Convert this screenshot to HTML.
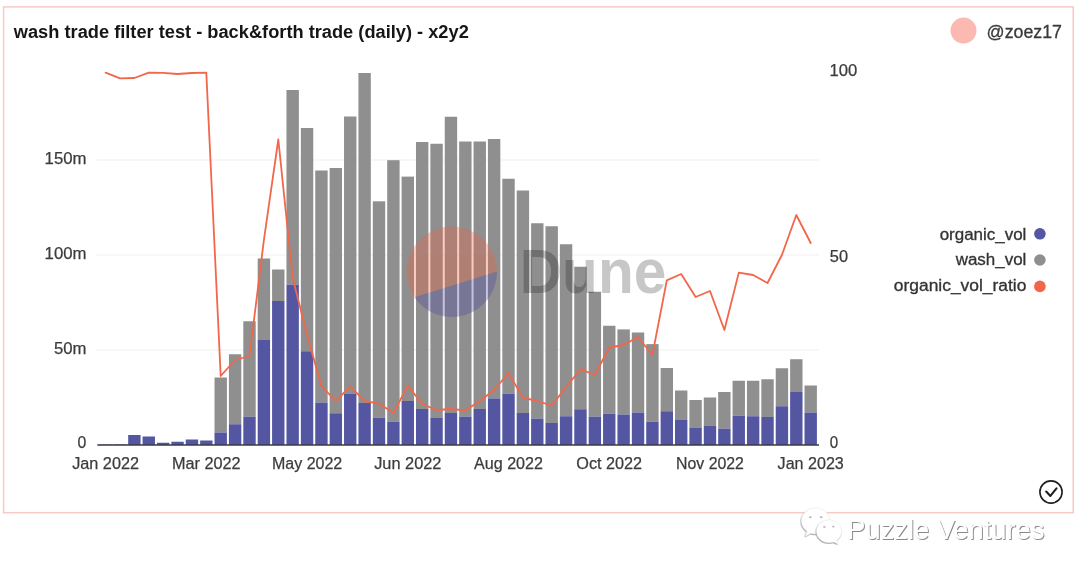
<!DOCTYPE html>
<html lang="en">
<head>
<meta charset="utf-8">
<title>wash trade filter test - back&amp;forth trade (daily) - x2y2</title>
<style>
html,body{margin:0;padding:0;background:#ffffff;}
body{width:1080px;height:575px;overflow:hidden;font-family:"Liberation Sans",sans-serif;}
svg{display:block;position:absolute;left:0;top:0;}
svg text{font-family:"Liberation Sans",sans-serif;}
.ax{font-size:16px;fill:#3c3c3c;stroke:#3c3c3c;stroke-width:0.25px;}
.lg{font-size:16px;fill:#333;stroke:#333;stroke-width:0.3px;}
</style>
</head>
<body>
<svg width="1080" height="575" viewBox="0 0 1080 575">
<!-- card -->
<rect x="3.6" y="6.9" width="1069.6" height="505.8" fill="#ffffff" stroke="#f7cac4" stroke-width="1.5"/>
<!-- title -->
<text x="13.8" y="37.5" font-size="18" font-weight="700" fill="#161616" textLength="455" lengthAdjust="spacingAndGlyphs">wash trade filter test - back&amp;forth trade (daily) - x2y2</text>
<!-- author -->
<circle cx="963.5" cy="30.6" r="13" fill="#fbb9b1"/>
<text x="986.6" y="37.5" font-size="17.5" fill="#3a3a3a" stroke="#3a3a3a" stroke-width="0.3" textLength="75.4" lengthAdjust="spacingAndGlyphs">@zoez17</text>
<!-- gridlines -->
<g stroke="#efefef" stroke-width="1">
<line x1="96.5" y1="160" x2="819" y2="160"/>
<line x1="96.5" y1="255" x2="819" y2="255"/>
<line x1="96.5" y1="350" x2="819" y2="350"/>
</g>
<!-- bars -->
<g fill="#8f8f8f"><rect x="214.52" y="377.50" width="12.39" height="55.00"/><rect x="228.91" y="354.25" width="12.39" height="70.00"/><rect x="243.30" y="321.25" width="12.39" height="95.50"/><rect x="257.69" y="258.50" width="12.39" height="81.50"/><rect x="272.08" y="269.50" width="12.39" height="31.50"/><rect x="286.47" y="90.00" width="12.39" height="194.75"/><rect x="300.86" y="128.00" width="12.39" height="223.25"/><rect x="315.25" y="170.50" width="12.39" height="232.00"/><rect x="329.64" y="168.00" width="12.39" height="245.25"/><rect x="344.03" y="116.50" width="12.39" height="277.00"/><rect x="358.42" y="73.00" width="12.39" height="330.00"/><rect x="372.81" y="201.30" width="12.39" height="216.30"/><rect x="387.20" y="160.20" width="12.39" height="261.40"/><rect x="401.59" y="176.60" width="12.39" height="224.40"/><rect x="415.98" y="142.00" width="12.39" height="267.00"/><rect x="430.37" y="143.75" width="12.39" height="274.25"/><rect x="444.76" y="116.75" width="12.39" height="296.25"/><rect x="459.15" y="141.50" width="12.39" height="275.10"/><rect x="473.54" y="141.50" width="12.39" height="267.50"/><rect x="487.93" y="139.00" width="12.39" height="259.40"/><rect x="502.32" y="178.75" width="12.39" height="214.85"/><rect x="516.71" y="190.50" width="12.39" height="222.50"/><rect x="531.10" y="223.25" width="12.39" height="195.35"/><rect x="545.49" y="226.25" width="12.39" height="196.75"/><rect x="559.88" y="244.25" width="12.39" height="172.00"/><rect x="574.27" y="266.75" width="12.39" height="142.50"/><rect x="588.66" y="291.75" width="12.39" height="125.00"/><rect x="603.05" y="325.75" width="12.39" height="88.00"/><rect x="617.44" y="329.40" width="12.39" height="85.10"/><rect x="631.83" y="332.50" width="12.39" height="80.00"/><rect x="646.22" y="344.10" width="12.39" height="77.65"/><rect x="660.61" y="368.00" width="12.39" height="43.25"/><rect x="675.00" y="390.50" width="12.39" height="29.50"/><rect x="689.39" y="400.00" width="12.39" height="27.50"/><rect x="703.78" y="397.50" width="12.39" height="28.00"/><rect x="718.17" y="392.00" width="12.39" height="36.75"/><rect x="732.56" y="380.75" width="12.39" height="35.00"/><rect x="746.95" y="380.75" width="12.39" height="35.50"/><rect x="761.34" y="379.25" width="12.39" height="37.75"/><rect x="775.73" y="368.25" width="12.39" height="38.00"/><rect x="790.12" y="359.25" width="12.39" height="32.75"/><rect x="804.51" y="385.50" width="12.39" height="27.00"/></g>
<g fill="#5456a2"><rect x="99.40" y="444.60" width="12.39" height="0.40"/><rect x="113.79" y="444.50" width="12.39" height="0.50"/><rect x="128.18" y="435.00" width="12.39" height="10.00"/><rect x="142.57" y="436.50" width="12.39" height="8.50"/><rect x="156.96" y="442.75" width="12.39" height="2.25"/><rect x="171.35" y="441.75" width="12.39" height="3.25"/><rect x="185.74" y="439.50" width="12.39" height="5.50"/><rect x="200.13" y="440.50" width="12.39" height="4.50"/><rect x="214.52" y="432.50" width="12.39" height="12.50"/><rect x="228.91" y="424.25" width="12.39" height="20.75"/><rect x="243.30" y="416.75" width="12.39" height="28.25"/><rect x="257.69" y="340.00" width="12.39" height="105.00"/><rect x="272.08" y="301.00" width="12.39" height="144.00"/><rect x="286.47" y="284.75" width="12.39" height="160.25"/><rect x="300.86" y="351.25" width="12.39" height="93.75"/><rect x="315.25" y="402.50" width="12.39" height="42.50"/><rect x="329.64" y="413.25" width="12.39" height="31.75"/><rect x="344.03" y="393.50" width="12.39" height="51.50"/><rect x="358.42" y="403.00" width="12.39" height="42.00"/><rect x="372.81" y="417.60" width="12.39" height="27.40"/><rect x="387.20" y="421.60" width="12.39" height="23.40"/><rect x="401.59" y="401.00" width="12.39" height="44.00"/><rect x="415.98" y="409.00" width="12.39" height="36.00"/><rect x="430.37" y="418.00" width="12.39" height="27.00"/><rect x="444.76" y="413.00" width="12.39" height="32.00"/><rect x="459.15" y="416.60" width="12.39" height="28.40"/><rect x="473.54" y="409.00" width="12.39" height="36.00"/><rect x="487.93" y="398.40" width="12.39" height="46.60"/><rect x="502.32" y="393.60" width="12.39" height="51.40"/><rect x="516.71" y="413.00" width="12.39" height="32.00"/><rect x="531.10" y="418.60" width="12.39" height="26.40"/><rect x="545.49" y="423.00" width="12.39" height="22.00"/><rect x="559.88" y="416.25" width="12.39" height="28.75"/><rect x="574.27" y="409.25" width="12.39" height="35.75"/><rect x="588.66" y="416.75" width="12.39" height="28.25"/><rect x="603.05" y="413.75" width="12.39" height="31.25"/><rect x="617.44" y="414.50" width="12.39" height="30.50"/><rect x="631.83" y="412.50" width="12.39" height="32.50"/><rect x="646.22" y="421.75" width="12.39" height="23.25"/><rect x="660.61" y="411.25" width="12.39" height="33.75"/><rect x="675.00" y="420.00" width="12.39" height="25.00"/><rect x="689.39" y="427.50" width="12.39" height="17.50"/><rect x="703.78" y="425.50" width="12.39" height="19.50"/><rect x="718.17" y="428.75" width="12.39" height="16.25"/><rect x="732.56" y="415.75" width="12.39" height="29.25"/><rect x="746.95" y="416.25" width="12.39" height="28.75"/><rect x="761.34" y="417.00" width="12.39" height="28.00"/><rect x="775.73" y="406.25" width="12.39" height="38.75"/><rect x="790.12" y="392.00" width="12.39" height="53.00"/><rect x="804.51" y="412.50" width="12.39" height="32.50"/></g>
<!-- baseline -->
<line x1="97.3" y1="445" x2="819" y2="445" stroke="#3a3a46" stroke-width="1.3"/>
<!-- dune watermark -->
<g opacity="0.32">
<circle cx="451.8" cy="271.8" r="45.2" fill="#f4603e"/>
<path d="M414.44,297.24 L497,271.51 A45.2,45.2 0 0 1 414.44,297.24 Z" fill="#4744a0"/>
</g>
<text x="519.8" y="293.0" font-size="63" font-weight="700" fill="#000" fill-opacity="0.22" textLength="146.5" lengthAdjust="spacingAndGlyphs">Dune</text>
<!-- ratio line -->
<polyline points="105.6,72.6 120.0,78.4 134.4,78.0 148.8,72.6 163.2,72.8 177.5,74.0 191.9,73.0 206.3,72.6 220.7,376.0 235.1,360.0 249.5,356.0 263.9,240.0 278.3,139.5 292.7,278.0 307.1,335.0 321.4,386.0 335.8,401.0 350.2,386.4 364.6,401.0 379.0,403.6 393.4,413.0 407.8,385.6 422.2,404.0 436.6,410.0 451.0,409.0 465.3,410.4 479.7,401.0 494.1,390.0 508.5,373.0 522.9,397.6 537.3,401.0 551.7,405.6 566.1,387.0 580.5,369.2 594.9,375.0 609.2,347.5 623.6,345.0 638.0,337.0 652.4,355.0 666.8,280.4 681.2,274.0 695.6,297.0 710.0,291.0 724.4,330.0 738.8,272.6 753.1,275.0 767.5,283.0 781.9,255.0 796.3,215.0 810.7,243.0" fill="none" stroke="#f2664a" stroke-width="1.8" stroke-linejoin="round" stroke-linecap="round"/>
<!-- y axis labels -->
<g class="ax" text-anchor="end">
<text x="86.5" y="163.8" textLength="41.9" lengthAdjust="spacingAndGlyphs">150m</text>
<text x="86.5" y="258.8" textLength="41.9" lengthAdjust="spacingAndGlyphs">100m</text>
<text x="86.5" y="353.8" textLength="32.5" lengthAdjust="spacingAndGlyphs">50m</text>
<text x="86.3" y="448.3" textLength="8.8" lengthAdjust="spacingAndGlyphs">0</text>
</g>
<g class="ax">
<text x="829.4" y="76.2" textLength="27.8" lengthAdjust="spacingAndGlyphs">100</text>
<text x="829.8" y="262.4" textLength="18.2" lengthAdjust="spacingAndGlyphs">50</text>
<text x="829.8" y="448.3" textLength="8.4" lengthAdjust="spacingAndGlyphs">0</text>
</g>
<g class="ax"><text x="105.6" y="468.7" text-anchor="middle" textLength="66.8" lengthAdjust="spacingAndGlyphs">Jan 2022</text><text x="206.3" y="468.7" text-anchor="middle" textLength="68.6" lengthAdjust="spacingAndGlyphs">Mar 2022</text><text x="307.1" y="468.7" text-anchor="middle" textLength="70.3" lengthAdjust="spacingAndGlyphs">May 2022</text><text x="407.8" y="468.7" text-anchor="middle" textLength="67.2" lengthAdjust="spacingAndGlyphs">Jun 2022</text><text x="508.5" y="468.7" text-anchor="middle" textLength="68.9" lengthAdjust="spacingAndGlyphs">Aug 2022</text><text x="609.2" y="468.7" text-anchor="middle" textLength="65.8" lengthAdjust="spacingAndGlyphs">Oct 2022</text><text x="710.0" y="468.7" text-anchor="middle" textLength="67.8" lengthAdjust="spacingAndGlyphs">Nov 2022</text><text x="810.7" y="468.7" text-anchor="middle" textLength="66.2" lengthAdjust="spacingAndGlyphs">Jan 2023</text></g>
<!-- legend -->
<g class="lg" text-anchor="end">
<text x="1026.4" y="239.5" textLength="86.7" lengthAdjust="spacingAndGlyphs">organic_vol</text>
<text x="1026.4" y="265.4" textLength="70.7" lengthAdjust="spacingAndGlyphs">wash_vol</text>
<text x="1026.4" y="291.1" textLength="132.6" lengthAdjust="spacingAndGlyphs">organic_vol_ratio</text>
</g>
<circle cx="1039.9" cy="233.8" r="5.8" fill="#5456a2"/>
<circle cx="1039.9" cy="260" r="5.8" fill="#8f8f8f"/>
<circle cx="1039.9" cy="286.4" r="5.8" fill="#f2664a"/>
<!-- check icon -->
<circle cx="1051" cy="492" r="11.1" fill="none" stroke="#1f1f1f" stroke-width="1.6"/>
<path d="M1046.2,491.6 L1050.4,495.9 L1056.5,488.4" fill="none" stroke="#1f1f1f" stroke-width="2.1" stroke-linecap="round" stroke-linejoin="round"/>
<!-- wechat style watermark -->
<defs>
<filter id="ws" x="-5%" y="-20%" width="110%" height="140%"><feDropShadow dx="0.9" dy="0.9" stdDeviation="0.25" flood-color="#6e6e6e" flood-opacity="0.9"/></filter>
<filter id="wi" x="-10%" y="-10%" width="120%" height="120%"><feDropShadow dx="-0.5" dy="0.8" stdDeviation="0.45" flood-color="#777" flood-opacity="0.85"/></filter>
</defs>
<g fill="#ffffff" stroke="#ededed" stroke-width="0.5">
<path filter="url(#wi)" d="M815.5,508 C807.5,508 801.4,513.8 801.4,521 C801.4,525.2 803.6,528.9 807,531.300 L805.500,536.300 L810.800,533.200 C812.300,533.700 813.900,534 815.500,534 C823.500,534 829.700,528.200 829.700,521 C829.700,513.800 823.500,508 815.500,508 Z"/>
<path filter="url(#wi)" d="M829,519.900 C822,519.900 816.500,525 816.500,531.200 C816.500,537.500 822,542.600 829,542.600 C830.600,542.600 832.100,542.300 833.500,541.900 L837.800,543.800 L836.700,540.200 C839.700,538.100 841.600,534.900 841.600,531.200 C841.600,525 836,519.900 829,519.900 Z"/>
</g>
<g fill="#b5b5b5"><ellipse cx="810.3" cy="517.2" rx="1.3" ry="1"/><ellipse cx="821.2" cy="517.2" rx="1.3" ry="1"/><ellipse cx="824.4" cy="526.9" rx="1.2" ry="0.9"/><ellipse cx="833.3" cy="526.6" rx="1.2" ry="0.9"/></g>
<text x="847.3" y="538.8" font-size="27.5" fill="#ffffff" textLength="197" lengthAdjust="spacingAndGlyphs" filter="url(#ws)">Puzzle Ventures</text>
</svg>
</body>
</html>
